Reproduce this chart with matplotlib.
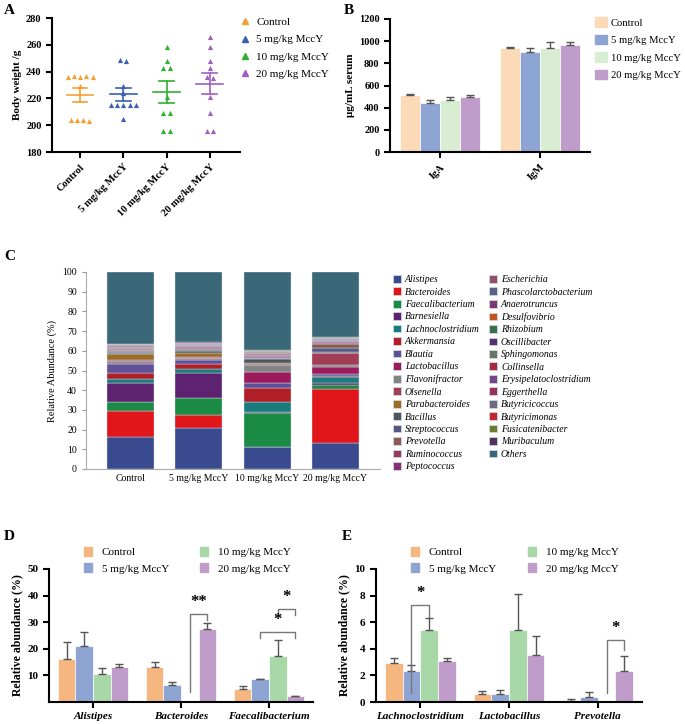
import numpy as np
import matplotlib
matplotlib.use('Agg')
import matplotlib.pyplot as plt
from matplotlib.patches import Patch
from matplotlib.lines import Line2D

plt.rcParams['font.family'] = ['Liberation Serif', 'DejaVu Serif']
plt.rcParams['axes.linewidth'] = 1.5

################################################################################
# data
################################################################################
groups = ['Control', '5 mg/kg MccY', '10 mg/kg MccY', '20 mg/kg MccY']

# A: body weight (g)
weight_control = [236, 237, 236, 237, 236, 229, 204, 204, 204, 203]
weight_5mg = [249, 248, 229, 224, 215, 215, 215, 215, 215, 205]
weight_10mg = [258, 248, 243, 243, 221, 209, 209, 196, 196]
weight_20mg = [266, 258, 248, 243, 236, 235, 221, 209, 196, 196]

# B: serum immunoglobulin (ug/mL)
ig_names = ['IgA', 'IgM']
ig_mean = [[510, 935], [445, 900], [470, 935], [500, 965]]
ig_err = [[10, 15], [20, 40], [30, 55], [15, 30]]

# C: genus relative abundance (%)
genera = ['Alistipes', 'Bacteroides', 'Faecalibacterium', 'Barnesiella',
          'Lachnoclostridium', 'Akkermansia', 'Blautia', 'Lactobacillus',
          'Flavonifractor', 'Olsenella', 'Parabacteroides', 'Bacillus',
          'Streptococcus', 'Prevotella', 'Ruminococcus', 'Peptococcus',
          'Escherichia', 'Phascolarctobacterium', 'Anaerotruncus', 'Desulfovibrio',
          'Rhizobium', 'Oscillibacter', 'Sphingomonas', 'Collinsella',
          'Erysipelatoclostridium', 'Eggerthella', 'Butyricicoccus', 'Butyricimonas',
          'Fusicatenibacter', 'Muribaculum', 'Others']
abund_control = [16.3, 13.1, 4.6, 9.5, 2.4, 3.0, 4.2, 0.6, 0.9, 0.6, 3.1, 0.8,
                 0.5, 0.1, 0.6, 0.3, 0.4, 0.3, 0.3, 0.3, 0.2, 0.3, 0.1, 0.2,
                 0.2, 0.1, 0.2, 0.2, 0.1, 0.2]
abund_5mg = [21.0, 6.5, 8.5, 12.6, 2.2, 2.5, 2.0, 0.6, 0.6, 0.4, 2.0, 1.0,
             0.6, 0.4, 0.5, 0.6, 0.2, 0.3, 0.2, 0.2, 0.1, 0.3, 0.1, 0.1,
             0.2, 0.1, 0.1, 0.2, 0.1, 0.1]
abund_10mg = [11.0, 0.1, 17.4, 0.3, 5.0, 7.4, 2.7, 5.3, 3.8, 0.2, 0.4, 2.2,
              0.5, 0.0, 0.6, 0.5, 0.4, 0.3, 0.3, 0.3, 0.2, 0.3, 0.1, 0.2,
              0.2, 0.1, 0.1, 0.2, 0.1, 0.2]
abund_20mg = [13.3, 27.4, 2.1, 0.8, 3.0, 0.5, 1.2, 3.4, 1.2, 5.9, 0.3, 0.3,
              1.8, 2.3, 0.6, 0.4, 0.3, 0.3, 0.2, 0.2, 0.2, 0.2, 0.1, 0.1,
              0.2, 0.1, 0.1, 0.2, 0.1, 0.2]
genus_colors = ['#3a4a8e', '#e0161a', '#1a8a45', '#5e2370', '#1a7b7e', '#b01e28',
                '#5f5197', '#9c1b5a', '#838383', '#a33c55', '#9c6b28', '#4d555e',
                '#565782', '#8a5a54', '#963a60', '#8a2d7a', '#944e66', '#5f6088',
                '#7a3a70', '#c0531e', '#3a7050', '#55306e', '#677467', '#a52a3a',
                '#74468a', '#963060', '#6d6a7e', '#c0262e', '#6b7a2e', '#55305e',
                '#3b6878']

# D: relative abundance (%)
d_names = ['Alistipes', 'Bacteroides', 'Faecalibacterium']
d_mean = [[16.0, 13.2, 4.7], [21.0, 6.5, 8.6], [10.7, 0.0, 17.3], [13.2, 27.6, 2.1]]
d_err = [[6.7, 1.7, 1.2], [5.3, 1.1, 0.2], [2.2, 0.0, 6.0], [1.0, 2.0, 0.3]]
# (category, bar1, bar2, top, left end, right end, label)
d_sig = [(1, 2, 3, 33.1, 3.6, 30.7, '**'),
         (2, 2, 3, 35.0, 32.6, 32.6, '*'),
         (2, 1, 3, 26.2, 24.0, 24.0, '*')]

# E: relative abundance (%)
e_names = ['Lachnoclostridium', 'Lactobacillus', 'Prevotella']
e_mean = [[2.9, 0.6, 0.1], [2.35, 0.6, 0.4], [5.4, 5.4, 0.0], [3.05, 3.5, 2.35]]
e_err = [[0.4, 0.2, 0.1], [0.4, 0.3, 0.35], [0.9, 2.7, 0.0], [0.25, 1.45, 1.1]]
e_sig = [(0, 1, 2, 7.3, 0.7, 6.4, '*'),
         (2, 2, 3, 4.65, 0.7, 3.9, '*')]

a_colors = ['#f5a030', '#3a60b0', '#30b030', '#a060c0']
b_colors = ['#fcd9b7', '#8ea4d2', '#d9edd3', '#c09ccb']
de_colors = ['#f6b67f', '#8ea4d2', '#a8d8a8', '#c09ccb']

W, H = 685, 724
fig = plt.figure(figsize=(W / 100, H / 100), dpi=100)


def box(l, t, r, b):
    return [l / W, 1 - b / H, (r - l) / W, (b - t) / H]


def spread(vals, tol=3.0, step=0.145):
    vals = np.asarray(vals, float)
    xs = np.zeros(len(vals))
    used = np.zeros(len(vals), bool)
    for i in range(len(vals)):
        if used[i]:
            continue
        idx = [j for j in range(len(vals)) if not used[j] and abs(vals[j] - vals[i]) <= tol]
        for k, j in enumerate(idx):
            xs[j] = (k - (len(idx) - 1) / 2) * step
            used[j] = True
    return xs


################################################################################
# A
################################################################################
axe = fig.add_axes(box(52, 18, 240, 152))
weights = [weight_control, weight_5mg, weight_10mg, weight_20mg]
for i, w in enumerate(weights):
    w = np.asarray(w, float)
    axe.scatter(i + spread(w), w, marker='^', s=14, color=a_colors[i], linewidths=0, zorder=3)
    m = w.mean()
    sem = w.std(ddof=1) / np.sqrt(len(w))
    axe.plot([i - 0.31, i + 0.31], [m, m], color=a_colors[i], lw=1.2)
    axe.plot([i, i], [m - sem, m + sem], color=a_colors[i], lw=1.2)
    axe.plot([i - 0.17, i + 0.17], [m + sem, m + sem], color=a_colors[i], lw=1.2)
    axe.plot([i - 0.17, i + 0.17], [m - sem, m - sem], color=a_colors[i], lw=1.2)
axe.set_xlim(-0.65, 3.7)
axe.set_ylim(180, 280)
axe.set_yticks([180, 200, 220, 240, 260, 280])
axe.set_xticks(range(4))
axe.set_xticklabels(groups, rotation=45, ha='right', rotation_mode='anchor',
                    fontsize=7.5, fontweight='bold')
axe.tick_params(axis='y', labelsize=7.5, width=1.5, length=4)
axe.tick_params(axis='x', width=1.5, length=4)
for lab in axe.get_yticklabels():
    lab.set_fontweight('bold')
axe.set_ylabel('Body weight /g', fontsize=8, fontweight='bold', labelpad=3)
axe.spines['top'].set_visible(False)
axe.spines['right'].set_visible(False)
handles = [Line2D([], [], marker='^', ls='none', color=c, markersize=4) for c in a_colors]
fig.legend(handles, groups, loc='upper left', bbox_to_anchor=(234 / W, 1 - 12 / H),
           frameon=False, fontsize=8, handlelength=1.0, handletextpad=0.5,
           labelspacing=0.66, borderpad=0)

################################################################################
# B
################################################################################
axe = fig.add_axes(box(390, 19, 590, 152))
xb = np.arange(len(ig_names))
for i in range(4):
    pos = xb + (i - 1.5) * 0.2
    axe.bar(pos, ig_mean[i], width=0.2, color=b_colors[i], edgecolor='white', lw=0.5)
    axe.errorbar(pos, ig_mean[i], yerr=[np.zeros(2), ig_err[i]], fmt='none',
                 ecolor='#555555', elinewidth=1, capsize=3, capthick=1)
axe.set_xlim(-0.5, 1.5)
axe.set_ylim(0, 1200)
axe.set_yticks(range(0, 1201, 200))
axe.set_xticks(xb)
axe.set_xticklabels(ig_names, rotation=45, ha='right', rotation_mode='anchor',
                    fontsize=7.5, fontweight='bold')
axe.tick_params(axis='y', labelsize=7.5, width=1.5, length=4)
axe.tick_params(axis='x', width=1.5, length=4)
for lab in axe.get_yticklabels():
    lab.set_fontweight('bold')
axe.set_ylabel('μg/mL serum', fontsize=8, fontweight='bold', labelpad=3)
axe.spines['top'].set_visible(False)
axe.spines['right'].set_visible(False)
handles = [Patch(color=c) for c in b_colors]
fig.legend(handles, groups, loc='upper left', bbox_to_anchor=(590 / W, 1 - 12 / H),
           frameon=False, fontsize=7.7, handlelength=1.1, handleheight=1.0,
           handletextpad=0.35, labelspacing=0.66, borderpad=0)

################################################################################
# C
################################################################################
axe = fig.add_axes(box(86, 272, 380, 469))
abund = np.array([abund_control, abund_5mg, abund_10mg, abund_20mg])
others = 100 - abund.sum(axis=1)
abund = np.column_stack([abund, others])
xc = np.arange(4)
bottom = np.zeros(4)
for k in range(len(genera)):
    axe.bar(xc, abund[:, k], width=0.69, bottom=bottom, color=genus_colors[k],
            edgecolor='#d4e0e6', lw=0.3)
    bottom += abund[:, k]
axe.set_xlim(-0.66, 3.66)
axe.set_ylim(0, 100)
axe.set_yticks(range(0, 101, 10))
axe.set_xticks(xc)
axe.set_xticklabels(groups, fontsize=7)
axe.tick_params(labelsize=7, width=0.8, length=3, color='#999999')
axe.tick_params(axis='x', length=0)
axe.set_ylabel('Relative Abundance (%)', fontsize=7.5)
for s in ['top', 'right']:
    axe.spines[s].set_visible(False)
for s in ['left', 'bottom']:
    axe.spines[s].set_color('#aaaaaa')
    axe.spines[s].set_linewidth(0.8)
handles = [Patch(facecolor=c, edgecolor='#d4e0e6', lw=0.5) for c in genus_colors]
for cols, x0 in [(slice(0, 16), 388), (slice(16, None), 484)]:
    fig.legend(handles[cols], genera[cols], loc='upper left',
               bbox_to_anchor=(x0 / W, 1 - 270 / H), frameon=False,
               prop={'style': 'italic', 'size': 7},
               handlelength=0.85, handleheight=0.85, handletextpad=0.4,
               labelspacing=0.33, borderpad=0)


################################################################################
# D and E
################################################################################
def abundance_panel(rect, names, mean, err, sig, ymax, yticks, leg_x):
    axe = fig.add_axes(rect)
    x = np.arange(len(names))
    for i in range(4):
        pos = x + (i - 1.5) * 0.2
        axe.bar(pos, mean[i], width=0.2, color=de_colors[i], edgecolor='white', lw=0.5)
        yerr = np.array(err[i])
        axe.errorbar(pos[yerr > 0], np.array(mean[i])[yerr > 0],
                     yerr=[np.zeros((yerr > 0).sum()), yerr[yerr > 0]], fmt='none',
                     ecolor='#555555', elinewidth=1, capsize=3, capthick=1)
    for c, b1, b2, top, yl, yr, lab in sig:
        x1 = c + (b1 - 1.5) * 0.2
        x2 = c + (b2 - 1.5) * 0.2
        axe.plot([x1, x1, x2, x2], [yl, top, top, yr], color='#777777', lw=1)
        axe.text((x1 + x2) / 2, top + ymax * 0.03, lab, ha='center', va='bottom',
                 fontsize=12, fontweight='bold')
    axe.set_xlim(-0.5, 2.5)
    axe.set_ylim(0, ymax)
    axe.set_yticks(yticks)
    axe.set_xticks(x)
    axe.set_xticklabels(names, fontsize=8, fontweight='bold', style='italic')
    axe.tick_params(axis='y', labelsize=8, width=1.5, length=4)
    axe.tick_params(axis='x', width=1.5, length=4)
    for lab in axe.get_yticklabels():
        lab.set_fontweight('bold')
    axe.set_ylabel('Relative abundance (%)', fontsize=8.5, fontweight='bold', labelpad=3)
    axe.spines['top'].set_visible(False)
    axe.spines['right'].set_visible(False)
    handles = [Patch(color=c) for c in de_colors]
    for j in range(2):
        fig.legend(handles[2 * j:2 * j + 2], groups[2 * j:2 * j + 2], loc='upper left',
                   bbox_to_anchor=(leg_x[j] / W, 1 - 541 / H), frameon=False,
                   fontsize=8, handlelength=0.75, handleheight=0.9, handletextpad=0.9,
                   labelspacing=0.55, borderpad=0)
    return axe


abundance_panel(box(49, 569, 313, 702), d_names, d_mean, d_err, d_sig, 50,
                [10, 20, 30, 40, 50], [78, 194])
abundance_panel(box(376, 569, 642, 702), e_names, e_mean, e_err, e_sig, 10,
                [0, 2, 4, 6, 8, 10], [405, 522])

# panel letters
for lab, px, py in [('A', 4, 4), ('B', 344, 4), ('C', 4, 250), ('D', 4, 530), ('E', 342, 530)]:
    fig.text(px / W, 1 - py / H, lab, fontsize=11, fontweight='bold', va='top')

plt.savefig('out.png', dpi=100)
plt.close()
